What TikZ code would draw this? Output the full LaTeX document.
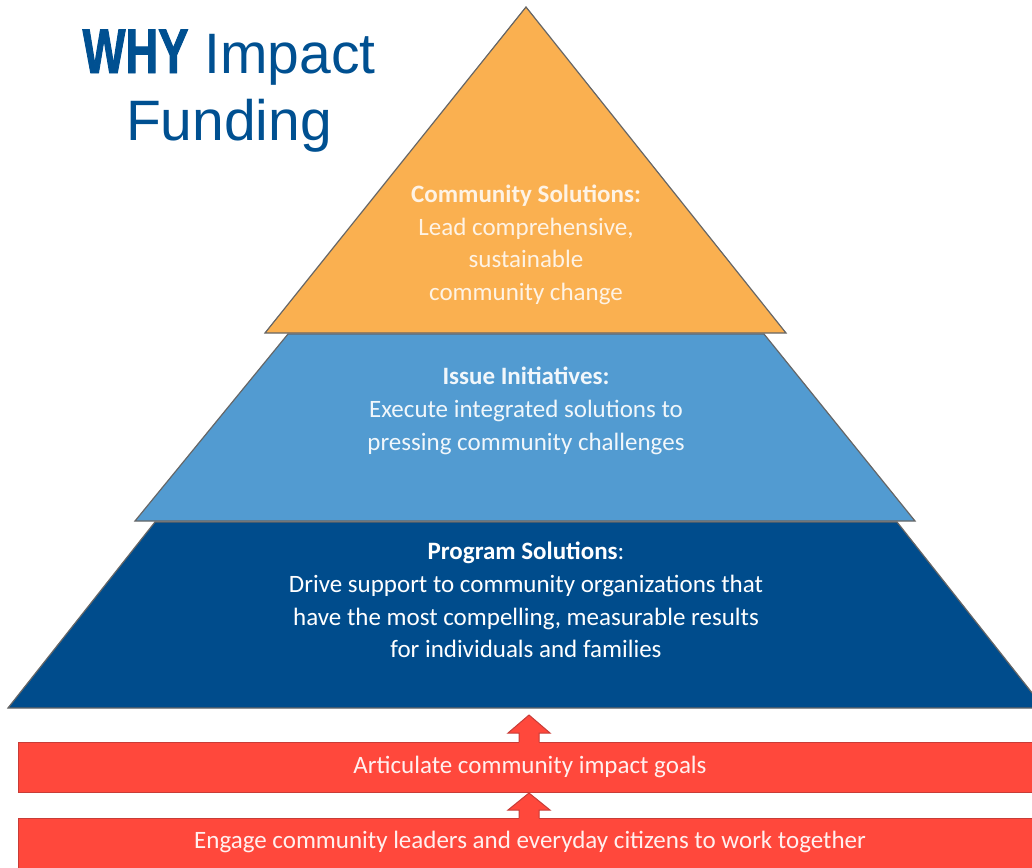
\documentclass[tikz,border=0pt]{standalone}
\usepackage{fontspec}
\setmainfont{Carlito}
\newfontfamily\headfont{Liberation Sans}
\newfontfamily\whyfont[FakeStretch=0.72,FakeBold=1.5]{Liberation Sans}
\usetikzlibrary{positioning,calc}
\definecolor{titleblue}{RGB}{0,80,145}
\definecolor{topband}{RGB}{250,176,80}
\definecolor{midband}{RGB}{82,155,209}
\definecolor{baseband}{RGB}{0,76,140}
\definecolor{barred}{RGB}{255,72,60}
\definecolor{bardark}{RGB}{200,60,55}

\begin{document}
\begin{tikzpicture}[x=1pt, y=-1pt,
    layer/.style={draw=black!60, line width=1.2pt, line join=miter},
    bar/.style={fill=barred, draw=bardark, line width=1pt},
    bandtext/.style={text=white, align=center, font=\fontsize{25}{32.7}\selectfont},
    headtext/.style={text=titleblue, font=\headfont\fontsize{57}{67}\selectfont}]
  \clip (0,0) rectangle (1032,867);

  % pyramid
  \filldraw[layer, fill=topband] (526,7) -- (786,333) -- (265,333) -- cycle;
  \filldraw[layer, fill=midband] (288,334) -- (764,334) -- (915,521) -- (135,521) -- cycle;
  \filldraw[layer, fill=baseband] (155,522) -- (897,522) -- (1044,708) -- (8,708) -- cycle;

  % bottom bars
  \filldraw[bar] (18,742) rectangle (1045,792);
  \filldraw[bar] (18,818) rectangle (1045,880);

  % block arrows
  \foreach \tip/\head/\foot in {715/733/742, 793/810/818} {
    \fill[barred] (529,\tip) -- (550,\head) -- (539,\head) -- (539,\foot+1.5)
      -- (519,\foot+1.5) -- (519,\head) -- (508,\head) -- cycle;
    \draw[bardark, line width=1pt, line join=miter] (519,\foot) -- (519,\head)
      -- (508,\head) -- (529,\tip) -- (550,\head) -- (539,\head) -- (539,\foot);
  }

  % texts
  \node[bandtext, text=white!85!topband] (community) at (526,245) {\textbf{Community Solutions:}\\Lead comprehensive,\\sustainable\\community change};
  \node[bandtext, text=white!92!midband] (issue) at (526,411) {\textbf{Issue Initiatives:}\\Execute integrated solutions to\\pressing community challenges};
  \node[bandtext] (program) at (526,600) {\textbf{Program Solutions}:\\Drive support to community organizations that\\have the most compelling, measurable results\\for individuals and families};
  \node[bandtext, text=white!92!barred] (goals) at (530,767) {Articulate community impact goals};
  \node[bandtext, text=white!92!barred] (engage) at (530,842) {Engage community leaders and everyday citizens to work together};

  % title
  \node[headtext, anchor=base] (why) at (229,73) {{\whyfont\bfseries\fontsize{63}{67}\selectfont WHY} Impact};
  \node[headtext, anchor=base] (funding) at ($(why.base)+(0,67)$) {Funding};
\end{tikzpicture}
\end{document}
